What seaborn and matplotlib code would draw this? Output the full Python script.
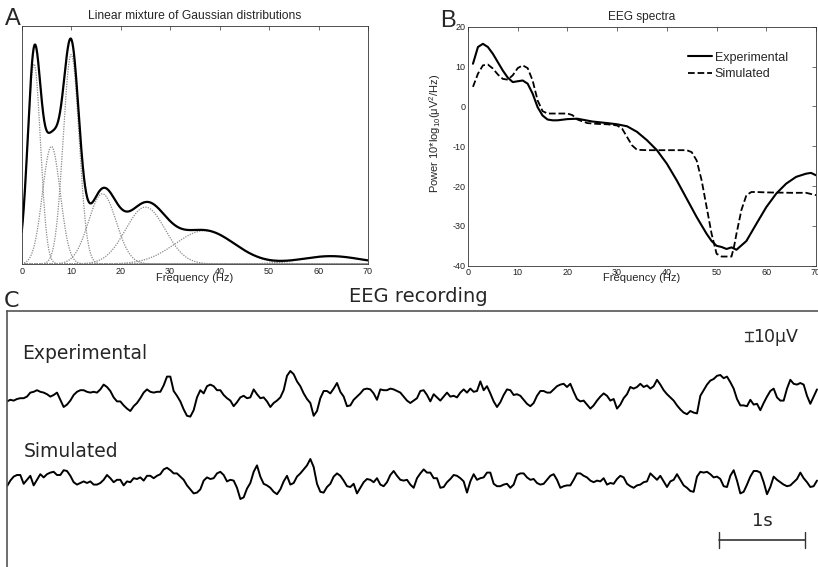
import numpy as np
import matplotlib
matplotlib.use('Agg')
import matplotlib.pyplot as plt
import seaborn as sns

# ---------------- Panel A: Gaussian mixture components ----------------
gauss_mean = [2.5, 6.0, 10.0, 16.3, 25.0, 37.0, 62.5]      # Hz
gauss_sd = [1.3, 1.8, 1.6, 2.8, 4.0, 6.0, 6.0]              # Hz
gauss_amp = [0.84, 0.494, 0.88, 0.295, 0.239, 0.14, 0.033]  # relative power

# ---------------- Panel B: EEG spectra (dB) ----------------
exp_f = [1, 2, 3, 4, 5, 6, 7, 8, 9, 10, 11, 12, 13, 14, 15, 16, 17, 18, 20, 22, 25, 28, 30,
         32, 34, 36, 38, 40, 42, 44, 46, 48, 49, 50, 51, 52, 53, 54, 56, 58, 60, 62, 64, 66,
         68, 69, 70]
exp_p = [10.7, 14.9, 15.7, 14.9, 13.2, 11.1, 9.0, 7.2, 6.1, 6.3, 6.5, 5.7, 3.2, -0.2, -2.3,
         -3.3, -3.5, -3.5, -3.2, -3.1, -3.8, -4.2, -4.5, -5.0, -6.4, -8.5, -11.0, -14.4, -18.6,
         -23.2, -27.8, -32.0, -33.8, -35.0, -35.3, -35.8, -35.4, -36.0, -33.8, -29.5, -25.3,
         -21.9, -19.4, -17.7, -16.9, -16.7, -17.3]
sim_f = [1, 2, 3, 4, 5, 6, 7, 8, 9, 10, 11, 12, 13, 14, 15, 16, 18, 20, 21, 22, 24, 26, 28, 30,
         31, 32, 33, 34, 36, 40, 44, 45, 46, 47, 48, 49, 50, 51, 52, 53, 53.5, 54, 55, 56, 57,
         58, 60, 65, 68, 70]
sim_p = [4.9, 8.2, 10.3, 10.5, 9.5, 8.0, 6.9, 6.7, 7.8, 9.6, 10.3, 9.6, 6.5, 1.5, -1.2, -1.8,
         -1.8, -1.8, -2.2, -3.3, -4.2, -4.4, -4.5, -4.8, -5.6, -7.7, -9.8, -10.9, -11.0, -11.0,
         -11.0, -11.5, -13.6, -18.6, -25.3, -32.0, -37.0, -37.7, -37.7, -37.7, -35.3, -32.0,
         -26.0, -22.3, -21.5, -21.5, -21.6, -21.7, -21.7, -22.3]

# ---------------- Panel C: EEG recordings (microvolts, sampled at fs) ----------------
fs = 25.8  # samples per second (as digitised)
exp_uv = [-6, -4, -5, -3, -2, -2, 0, 5, 6, 8, 6, 5, 3, 0, 2, 5, -4, -13, -10, -5,
          2, 6, 8, 8, 6, 5, 6, 5, 9, 15, 12, 7, -1, -6, -6, -11, -15, -18, -12, -8,
          -2, 5, 9, 6, 5, 6, 6, 14, 25, 25, 7, 1, -6, -16, -24, -25, -17, -1, 8, 4,
          13, 15, 13, 8, 8, 2, -2, -5, -12, -7, -1, 1, -2, -1, 9, 3, -2, -1, -6, -13,
          -8, -5, -1, 8, 26, 32, 28, 19, 13, 4, -3, -8, -24, -18, -2, 7, 7, 4, 10, 17,
          6, 0, -12, -11, -4, 0, 4, 9, 10, 9, 4, -4, 9, 8, 8, 10, 9, 7, 5, 0,
          -5, -8, -5,
          -2, 7, 8, 2, -6, 3, -1, -5, 0, 5, 0, 1, -1, 5, 9, 5, 10, 6, 7, 19,
          8, 13, 4, -6, -13, -7, 2, 9, 8, 2, 3, 1, -4, -9, -12, -8, 1, 7, 7, 5,
          5, 9, 13, 15, 16, 12, 16, 6, -3, -6, -5, -10, -15, -11, -5, 0, 4, 1,
          -5, -3, -15, -10, -2, 3, 12, 10, 12, 16, 12, 14, 10, 13, 21, 15, 8, 3, -1, -5,
          -11, -16, -20, -22, -18, -20, -21, 1, 8, 15, 20, 22, 26, 27, 23, 25, 18, 10, -3, -11,
          -11, -12, -4, -10, -9, -17, -8, 0, 7, 10, -1, -5, -5, 10, 21, 16, 15, 17, 15, 1,
          -9, 0, 9]
sim_uv = [-8, -1, 4, 6, 6, -5, 0, 5, -7, 0, 7, 3, 7, 9, 10, 6, 6, 12, 11, 5,
          -3, -6, -4, -2, -4, -2, -6, -6, -4, 0, 6, 2, -3, 0, 0, -7, -2, -3, 2, 1,
          3, -1, 5, 5, 2, 5, 7, 13, 15, 12, 8, 8, 4, 0, -7, -12, -17, -16, -12, -1,
          3, 1, 2, 8, 10, 6, -2, 0, -1, -10, -24, -22, -11, -4, 10, 18, 4, -5, -7, -10,
          -15, -18, -12, -2, 5, -6, -4, 4, 8, 13, 18, 26, 16, -5, -15, -16, -9, -5, 4, 8,
          5, -1, -8, -9, -5, -17, -10, -3, 1, 0, -3, 2, -6, -8, -3, 6, 11, 5, 0, -1,
          0, -6, -10,
          2, 8, 13, 9, 9, 2, 2, -10, -9, -3, 1, 6, 5, 2, -2, -16, -2, 7, 0, 2,
          3, 9, 9, -5, -8, -8, -6, -5, -10, -6, 6, 8, 8, 3, 0, 1, -4, -6, -5, 0,
          5, 7, 0, -10, -8, -7, -7, 0, 8, 8, 5, 3, -1, -3, -1, -2, 2, -6,
          -4, -5, 1, 5, 3, -5, -8, -10, -7, -6, -3, -2, 8, 4, 0, 5, -2, -9, -2, 0,
          7, 0, -7, -10, -14, -15, 4, 10, 9, 10, 7, 3, 4, 1, -8, -9, 5, 12, -1, -17,
          -15, -6, 4, 11, 11, 9, -3, -18, -9, 4, 0, -3, -6, -8, -7, -3, 1, 9, 2, -3,
          -9, -8, -1]
trace_names = ['Experimental', 'Simulated']
scale_time_s = 1.0
scale_amp_uv = 10.0

# ---------------- style ----------------
sns.set_style('white')
plt.rcParams['font.family'] = ['Liberation Sans', 'DejaVu Sans']
plt.rcParams['mathtext.fontset'] = 'custom'
plt.rcParams['mathtext.rm'] = 'Liberation Sans'
plt.rcParams['mathtext.it'] = 'Liberation Sans:italic'
plt.rcParams['mathtext.default'] = 'regular'
plt.rcParams['axes.unicode_minus'] = False

W, H = 818, 567
fig = plt.figure(figsize=(W / 100, H / 100), dpi=100)
axA = fig.add_axes([21.7 / W, 1 - 264 / H, (368 - 21.7) / W, (264 - 26) / H])
axB = fig.add_axes([468 / W, 1 - 265.7 / H, (816 - 468) / W, (265.7 - 26.7) / H])
axC = fig.add_axes([7 / W, 0, 1 - 7 / W, 1 - 311 / H])

frame_col = '#333333'
for ax in (axA, axB):
    for s in ax.spines.values():
        s.set_color(frame_col)
        s.set_linewidth(0.6)
    ax.tick_params(direction='in', length=3, width=0.5, labelsize=6.5, pad=2,
                   top=True, right=True, colors=frame_col, labelcolor='#222222')

# ---- Panel A ----
freq = np.linspace(0, 70, 1401)
comps = []
for m, s, a in zip(gauss_mean, gauss_sd, gauss_amp):
    c = a * np.exp(-(freq - m) ** 2 / (2 * s ** 2))
    comps.append(c)
    sns.lineplot(x=freq, y=c, ax=axA, color='#8a8a8a', lw=0.9, linestyle=(0, (1, 1)))
total = np.sum(comps, axis=0)
sns.lineplot(x=freq, y=total, ax=axA, color='black', lw=1.6)
axA.set_xlim(0, 70)
axA.set_ylim(0, 1)
axA.set_xticks(range(0, 71, 10))
axA.set_yticks([])
axA.set_title('Linear mixture of Gaussian distributions', fontsize=8.7, pad=5)
axA.set_xlabel('Frequency (Hz)', fontsize=8)
axA.xaxis.set_label_coords(0.5, -0.036)
axA.set_ylabel('')

# ---- Panel B ----
sns.lineplot(x=exp_f, y=exp_p, ax=axB, color='black', lw=1.5, label='Experimental')
sns.lineplot(x=sim_f, y=sim_p, ax=axB, color='black', lw=1.3, linestyle='--', label='Simulated')
axB.set_xlim(0, 70)
axB.set_ylim(-40, 20)
axB.set_xticks(range(0, 71, 10))
axB.set_yticks(range(-40, 21, 10))
axB.set_title('EEG spectra', fontsize=8.6, pad=5)
axB.set_xlabel('Frequency (Hz)', fontsize=8)
axB.xaxis.set_label_coords(0.5, -0.032)
axB.set_ylabel('Power 10*log$_{10}$($\\mu$V$^2$/Hz)', fontsize=8)
axB.yaxis.set_label_coords(-0.073, 0.555)
axB.legend(loc='center left', bbox_to_anchor=(0.632, 0.836), frameon=False, fontsize=9,
           handlelength=1.9, handletextpad=0.25, labelspacing=0.35, borderpad=0,
           borderaxespad=0)

# ---- Panel C ----
exp_offset, sim_offset = -107, -211
t_exp = np.arange(len(exp_uv)) / fs
t_sim = np.arange(len(sim_uv)) / fs
sns.lineplot(x=t_exp, y=np.array(exp_uv) + exp_offset, ax=axC, color='black', lw=1.4)
sns.lineplot(x=t_sim, y=np.array(sim_uv) + sim_offset, ax=axC, color='black', lw=1.4)
axC.set_xlim(0, (W - 7) / 86)
axC.set_ylim(-320, 0)
axC.set_xticks([])
axC.set_yticks([])
axC.set_xlabel('')
axC.set_ylabel('')
for side in ('right', 'bottom'):
    axC.spines[side].set_visible(False)
for side in ('left', 'top'):
    axC.spines[side].set_color('#555555')
    axC.spines[side].set_linewidth(1.2)

dv = ['DejaVu Sans']
axC.text(0.174, -60, trace_names[0], fontsize=13.5, family=dv, va='baseline', ha='left')
axC.text(0.19, -183, trace_names[1], fontsize=13.5, family=dv, va='baseline', ha='left')

# time scale bar
x0 = 8.283
axC.plot([x0, x0 + scale_time_s], [-286, -286], color='#333333', lw=1.2)
for xx in (x0, x0 + scale_time_s):
    axC.plot([xx, xx], [-276, -296], color='#333333', lw=1.0)
axC.text(x0 + scale_time_s / 2, -269, '1s', fontsize=13, family=dv, ha='center', va='baseline')

# amplitude scale bar
xa = 8.628
ya = -26.25
axC.plot([xa, xa], [ya, ya - scale_amp_uv * 1.125], color='#333333', lw=1.0)
for yy in (ya, ya - scale_amp_uv * 1.125):
    axC.plot([xa - 0.047, xa + 0.047], [yy, yy], color='#333333', lw=1.0)
axC.text(8.674, -38.4, '10\u03bcV', fontsize=12.5, family=dv, ha='left', va='baseline')

# panel letters and heading
fig.text(418 / W, 1 - 302 / H, 'EEG recording', fontsize=14, family=dv, ha='center', va='baseline')
fig.text(4 / W, 1 - 307 / H, 'C', fontsize=16, family=dv, ha='left', va='baseline')
fig.text(5 / W, 1 - 25 / H, 'A', fontsize=17, ha='left', va='baseline')
fig.text(440 / W, 1 - 26.7 / H, 'B', fontsize=17, ha='left', va='baseline')

fig.savefig('out.png', dpi=100)
